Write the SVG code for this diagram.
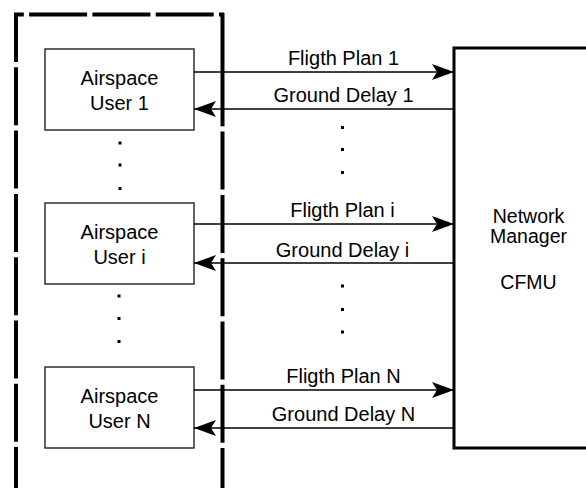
<svg xmlns="http://www.w3.org/2000/svg" width="586" height="488" viewBox="0 0 586 488">
  <defs>
    <marker id="arrow" viewBox="0 0 22 16" refX="22" refY="8" markerWidth="22" markerHeight="16" markerUnits="userSpaceOnUse" orient="auto">
      <path d="M0,0 L22,8 L0,16 L5,8 Z" fill="#000"/>
    </marker>
  </defs>
  <style>
    text { font-family: "Liberation Sans", Arial, sans-serif; fill: #000; }
    .lbl { font-size: 20px; text-anchor: middle; }
    .nm { font-size: 19.5px; text-anchor: middle; }
    .user { fill: #fff; stroke: #222; stroke-width: 1.4; }
    .mgr { fill: #fff; stroke: #000; stroke-width: 3; }
    .dash { fill: none; stroke: #000; stroke-width: 4; stroke-dasharray: 58 5.3; }
    .solid { fill: none; stroke: #000; stroke-width: 4; }
    .link { fill: none; stroke: #000; stroke-width: 1.7; marker-end: url(#arrow); }
    .dot { fill: #000; }
  </style>
  <rect width="586" height="488" fill="#fff"/>

  <!-- dashed boundary around the airspace users -->
  <g id="users-boundary">
    <path class="dash" d="M224,14.5 H14" stroke-dashoffset="53"/>
    <path class="dash" d="M16,13 V488" stroke-dashoffset="9"/>
    <path class="solid" d="M222.5,13 V126.3"/>
    <path class="dash" d="M222.5,131.6 V488"/>
  </g>

  <!-- network manager -->
  <g id="network-manager">
    <rect class="mgr" x="454" y="48" width="140" height="400"/>
    <text class="nm" x="528.5" y="222.5">Network</text>
    <text class="nm" x="528.5" y="243">Manager</text>
    <text class="nm" x="528.5" y="289">CFMU</text>
  </g>

  <!-- airspace users -->
  <g id="user-1">
    <rect class="user" x="45" y="49" width="149" height="81"/>
    <text class="lbl" x="119.5" y="84.5">Airspace</text>
    <text class="lbl" x="119.5" y="110">User 1</text>
  </g>
  <g id="user-i">
    <rect class="user" x="45" y="203" width="149" height="81"/>
    <text class="lbl" x="119.5" y="238.5">Airspace</text>
    <text class="lbl" x="119.5" y="264">User i</text>
  </g>
  <g id="user-n">
    <rect class="user" x="45" y="367" width="149" height="81"/>
    <text class="lbl" x="119.5" y="402.5">Airspace</text>
    <text class="lbl" x="119.5" y="428">User N</text>
  </g>

  <!-- vertical ellipses between users and between message pairs -->
  <g id="ellipses">
    <rect class="dot" x="118.5" y="141.5" width="3" height="3"/>
    <rect class="dot" x="118.5" y="163.5" width="3" height="3"/>
    <rect class="dot" x="118.5" y="187" width="3" height="3"/>
    <rect class="dot" x="117.5" y="294.5" width="3" height="3"/>
    <rect class="dot" x="117.5" y="317" width="3" height="3"/>
    <rect class="dot" x="117.5" y="340" width="3" height="3"/>
    <rect class="dot" x="341" y="126" width="3" height="3"/>
    <rect class="dot" x="341" y="148" width="3" height="3"/>
    <rect class="dot" x="341" y="171" width="3" height="3"/>
    <rect class="dot" x="341" y="284.5" width="3" height="3"/>
    <rect class="dot" x="341" y="308" width="3" height="3"/>
    <rect class="dot" x="341" y="330.5" width="3" height="3"/>
  </g>

  <!-- message flows -->
  <g id="connectors">
    <path class="link" d="M194,72 H454"/>
    <path class="link" d="M454,109 H194"/>
    <path class="link" d="M194,224 H454"/>
    <path class="link" d="M454,263 H194"/>
    <path class="link" d="M194,390 H454"/>
    <path class="link" d="M454,428 H194"/>
    <text class="lbl" x="343.5" y="65">Fligth Plan 1</text>
    <text class="lbl" x="343.5" y="102">Ground Delay 1</text>
    <text class="lbl" x="342.5" y="217">Fligth Plan i</text>
    <text class="lbl" x="342.5" y="256.5">Ground Delay i</text>
    <text class="lbl" x="343.5" y="383">Fligth Plan N</text>
    <text class="lbl" x="343.5" y="421">Ground Delay N</text>
  </g>
</svg>
